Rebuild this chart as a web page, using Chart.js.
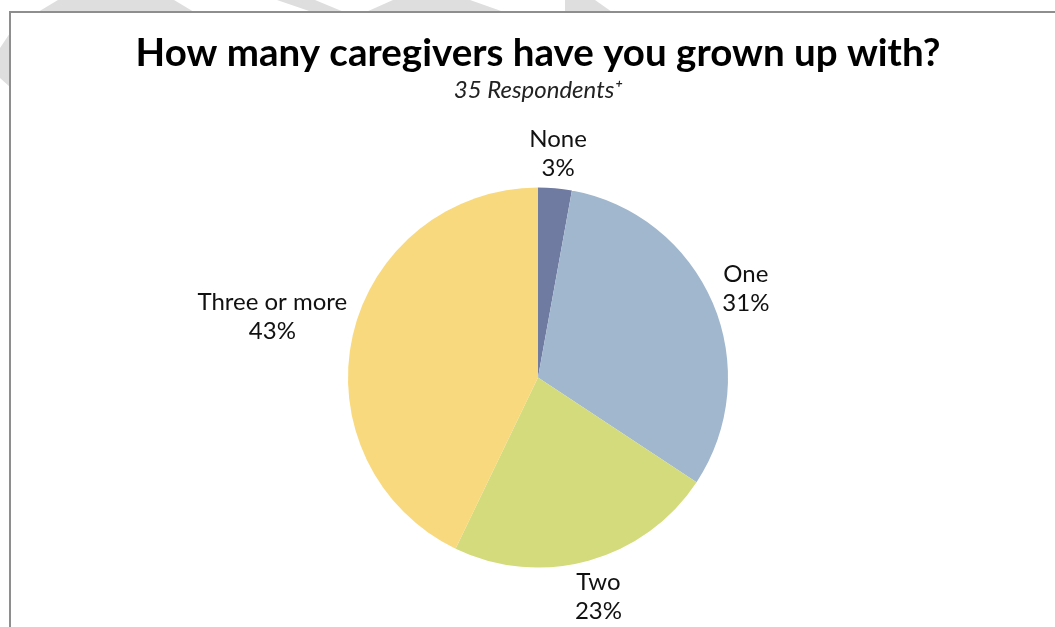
<!DOCTYPE html>
<html>
<head>
<meta charset="utf-8">
<title>Caregivers</title>
<script src="https://cdn.jsdelivr.net/npm/chart.js@4"></script>
<style>
  html, body { margin: 0; padding: 0; background: #fff; }
  #wrap { position: relative; width: 1055px; height: 627px; }
</style>
</head>
<body>
<div id="wrap"><canvas id="pieCanvas" width="1055" height="627"></canvas></div>
<script>
var categories = ['None', 'One', 'Two', 'Three or more'];
var respondents = [1, 11, 8, 15];
var percentLabels = ['3%', '31%', '23%', '43%'];
var sliceColors = ['#707ba1', '#a1b7ce', '#d4db7c', '#f9d97e'];

// faint watermark shapes and the frame round the chart
var framePlugin = {
    id: 'frame',
    beforeDraw: function (chart) {
        var ctx = chart.ctx;
        ctx.save();
        ctx.fillStyle = '#fff';
        ctx.fillRect(0, 0, chart.width, chart.height);
        ctx.fillStyle = '#dedede';
        var shapes = [
            [[38, 12], [58, 0], [174, 0], [194, 12]],
            [[0, 48], [10, 33], [10, 87], [0, 78]],
            [[277, 0], [315, 0], [344, 12], [312, 12]],
            [[366, 12], [393, 0], [470, 0], [504, 12]],
            [[565, 12], [565, 0], [595, 0], [612, 12]]
        ];
        shapes.forEach(function (pts) {
            ctx.beginPath();
            ctx.moveTo(pts[0][0], pts[0][1]);
            for (var i = 1; i < pts.length; i++) ctx.lineTo(pts[i][0], pts[i][1]);
            ctx.closePath();
            ctx.fill();
        });
        ctx.fillStyle = '#fff';
        ctx.fillRect(10, 12, chart.width, chart.height);
        ctx.strokeStyle = '#8e8e8e';
        ctx.lineWidth = 2;
        ctx.strokeRect(10, 12, chart.width + 20, chart.height + 20);
        ctx.restore();
    }
};

// category name + percentage outside each slice
var outsideLabels = {
    id: 'outsideLabels',
    afterDatasetsDraw: function (chart) {
        var ctx = chart.ctx;
        var meta = chart.getDatasetMeta(0);
        var lineH = 29;
        ctx.save();
        ctx.font = '24px Lato';
        ctx.fillStyle = '#111';
        ctx.textAlign = 'center';
        ctx.textBaseline = 'middle';
        meta.data.forEach(function (arc, i) {
            var p = arc.getProps(['x', 'y', 'startAngle', 'endAngle', 'outerRadius'], true);
            var mid = (p.startAngle + p.endAngle) / 2;
            var dx = Math.cos(mid), dy = Math.sin(mid);
            var lines = [categories[i], percentLabels[i]];
            var w = Math.max(ctx.measureText(lines[0]).width, ctx.measureText(lines[1]).width);
            var h = lineH * lines.length;
            var gap = 3;
            // push the box out until its nearest side clears the rim
            var t = Math.abs(dx) * w / 2 + Math.abs(dy) * h / 2;
            var cx = p.x + dx * (p.outerRadius + gap + t);
            var cy = p.y + dy * (p.outerRadius + gap + t);
            ctx.fillText(lines[0], cx, cy - lineH / 2);
            ctx.fillText(lines[1], cx, cy + lineH / 2);
        });
        ctx.restore();
    }
};

var ctx = document.getElementById('pieCanvas').getContext('2d');

var myChart = new Chart(ctx, {
    type: 'pie',
    data: {
        labels: categories,
        datasets: [{
            data: respondents,
            backgroundColor: sliceColors,
            borderWidth: 0,
            radius: 190
        }]
    },
    options: {
        responsive: false,
        animation: false,
        layout: {
            padding: { left: 21, right: 0, top: 0, bottom: 59 }
        },
        plugins: {
            legend: { display: false },
            tooltip: { enabled: false },
            title: {
                display: true,
                text: 'How many caregivers have you grown up with?',
                color: '#000',
                font: { family: 'Lato', size: 38.5, weight: 'bold', lineHeight: 1.2 },
                padding: { top: 30, bottom: 0 }
            },
            subtitle: {
                display: true,
                text: '35 Respondents\u207a',
                color: '#222',
                font: { family: 'Lato', size: 24, style: 'italic', lineHeight: 1.2 },
                padding: { top: 0, bottom: 82 }
            }
        }
    },
    plugins: [framePlugin, outsideLabels]
});
</script>
</body>
</html>
